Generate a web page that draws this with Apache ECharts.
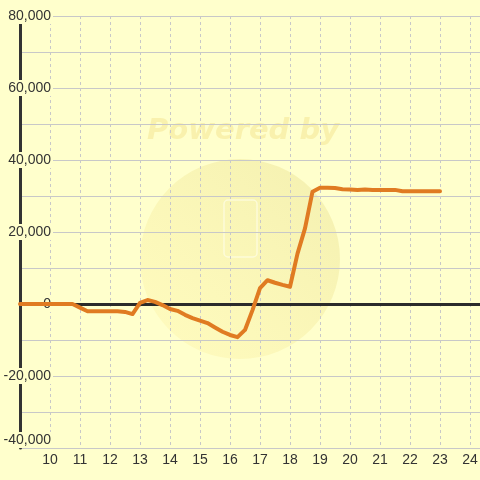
<!DOCTYPE html>
<html><head><meta charset="utf-8">
<script src="https://cdn.jsdelivr.net/npm/echarts@6/dist/echarts.min.js"></script>
<style>html,body{margin:0;padding:0;background:#ffffcc;}#c{width:480px;height:480px;}</style>
</head><body><div id="c"></div>
<script>
var hours = [9, 9.25, 9.5, 9.75, 10, 10.25, 10.5, 10.75, 11, 11.25, 11.5, 11.75, 12, 12.25, 12.5, 12.75, 13, 13.25, 13.5, 13.75, 14, 14.25, 14.5, 14.75, 15, 15.25, 15.5, 15.75, 16, 16.25, 16.5, 16.75, 17, 17.25, 17.5, 17.75, 18, 18.25, 18.5, 18.75, 19, 19.25, 19.5, 19.75, 20, 20.25, 20.5, 20.75, 21, 21.25, 21.5, 21.75, 22, 22.25, 22.5, 22.75, 23];
var values = [0, 0, 0, 0, 0, 0, 0, 0, -1000, -2000, -2000, -2000, -2000, -2000, -2200, -2800, 300, 1100, 600, -300, -1400, -1900, -3000, -3900, -4600, -5300, -6500, -7700, -8600, -9200, -7200, -1700, 4400, 6600, 5900, 5300, 4800, 14000, 21000, 31200, 32300, 32300, 32200, 31900, 31800, 31700, 31800, 31700, 31700, 31700, 31700, 31300, 31300, 31300, 31300, 31300, 31300];
var xTicks = [10, 11, 12, 13, 14, 15, 16, 17, 18, 19, 20, 21, 22, 23, 24];
var yTicks = [-40000, -20000, 0, 20000, 40000, 60000, 80000];

var chart = echarts.init(document.getElementById('c'), null, {renderer: 'canvas'});
var pts = hours.map(function (h, i) { return [h, values[i]]; });
var font = '"Liberation Sans", Arial, sans-serif';
chart.setOption({
  backgroundColor: '#ffffcc',
  animation: false,
  grid: {left: 20, right: 0, top: 16, bottom: 32, containLabel: false, outerBoundsMode: 'none'},
  graphic: [
    {type: 'circle', z: 0, silent: true, shape: {cx: 240, cy: 259, r: 100},
     style: {fill: new echarts.graphic.LinearGradient(1, 0, 0, 1, [
       {offset: 0, color: 'rgba(225,215,130,0.38)'},
       {offset: 1, color: 'rgba(255,240,150,0.25)'}])}},
    {type: 'rect', z: 0, silent: true, shape: {x: 224, y: 200, width: 33, height: 57, r: 4},
     style: {fill: 'none', stroke: 'rgba(255,255,240,0.6)', lineWidth: 1.5}},
    {type: 'text', z: 0, silent: true, left: 147, top: 117,
     style: {text: 'Powered by', font: 'italic bold 29px "DejaVu Sans", sans-serif', fill: 'rgba(235,212,110,0.32)'}}
  ],
  xAxis: {
    type: 'value', min: 9, max: 24.3333, interval: 1,
    axisLine: {show: false}, axisTick: {show: false},
    splitLine: {show: true, lineStyle: {color: '#c8c8c8', type: [3, 3], width: 1}},
    axisLabel: {
      margin: 5, color: '#333', fontSize: 14, fontFamily: font,
      formatter: function (v) { return xTicks.indexOf(v) >= 0 ? String(v) : ''; }
    }
  },
  yAxis: {
    type: 'value', min: yTicks[0], max: yTicks[yTicks.length - 1], interval: 20000,
    axisLine: {show: true, onZero: false, lineStyle: {color: '#333', width: 3}},
    axisTick: {show: false},
    splitLine: {show: true, lineStyle: {color: '#c8c8c8', width: 1}},
    minorTick: {show: false, splitNumber: 2},
    minorSplitLine: {show: true, lineStyle: {color: '#c8c8c8', width: 1}},
    axisLabel: {
      margin: -33, align: 'right', color: '#333', fontSize: 14, fontFamily: font,
      backgroundColor: '#ffffcc', padding: [1, 2, 1, 1], lineHeight: 14,
      verticalAlignMinLabel: 'bottom',
      formatter: function (v) { return v.toLocaleString('en-US'); }
    }
  },
  series: [{
    type: 'line', data: pts, showSymbol: false, smooth: false,
    lineStyle: {color: '#e07b22', width: 4, cap: 'round', join: 'round'},
    z: 3,
    markLine: {
      silent: true, symbol: ['none', 'none'], label: {show: false},
      lineStyle: {color: '#2b2b2b', width: 3, type: 'solid'},
      data: [{yAxis: 0}], z: 2
    }
  }]
});
</script></body></html>
